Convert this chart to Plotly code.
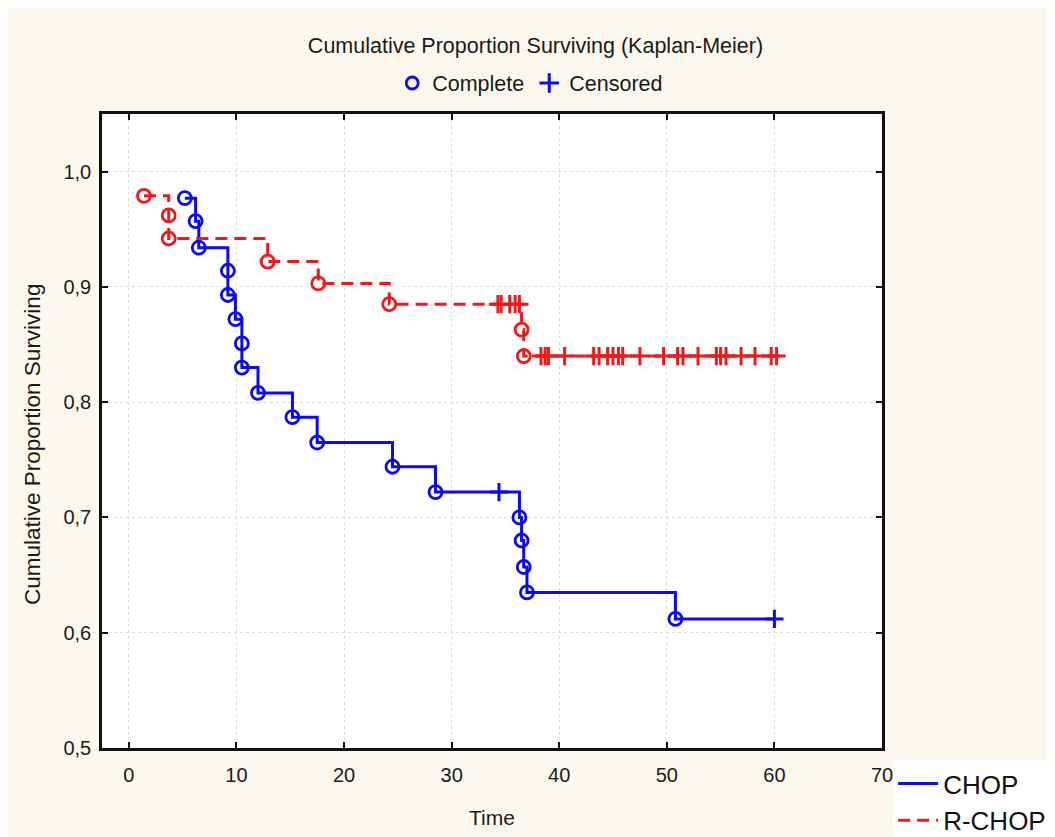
import plotly.graph_objects as go

# CHOP (blue) - event times / survival after event
chop_event_t = [5.2, 6.2, 6.5, 9.2, 9.2, 9.9, 10.5, 10.5, 12.0, 15.2, 17.5, 24.5, 28.5, 36.3, 36.5, 36.7, 37.0, 50.8]
chop_event_s = [0.977, 0.957, 0.934, 0.914, 0.893, 0.872, 0.851, 0.830, 0.808, 0.787, 0.765, 0.744, 0.722, 0.700, 0.680, 0.657, 0.635, 0.612]
chop_cens_t = [34.4, 60.0]
chop_cens_s = [0.722, 0.612]

# R-CHOP (red)
rchop_event_t = [1.4, 3.7, 3.7, 12.9, 17.6, 24.2, 36.5, 36.7]
rchop_event_s = [0.979, 0.962, 0.942, 0.922, 0.903, 0.885, 0.863, 0.840]
rchop_cens_t = [34.3, 34.6, 35.4, 35.9, 36.3,
                 38.3, 38.7, 39.0, 40.5, 43.2, 43.7, 44.5, 45.0, 45.5, 45.9, 47.5,
                 49.7, 51.0, 51.5, 52.9, 54.6, 55.0, 55.5, 56.9, 58.2, 59.7, 60.2]
rchop_cens_s = [0.885] * 5 + [0.840] * 22

x_ticks = [0, 10, 20, 30, 40, 50, 60, 70]
y_ticks = [0.5, 0.6, 0.7, 0.8, 0.9, 1.0]

BLUE = "#0a0af5"
RED = "#f01818"
FONT = "Liberation Sans, Arial, sans-serif"


def step_path(ev_t, ev_s, cens_t, cens_s):
    pts = sorted([(t, s) for t, s in zip(ev_t, ev_s)] + [(t, s) for t, s in zip(cens_t, cens_s)],
                 key=lambda p: (p[0], -p[1]))
    return [p[0] for p in pts], [p[1] for p in pts]


fig = go.Figure()

for name, ev_t, ev_s, c_t, c_s, color, dash in [
    ("CHOP", chop_event_t, chop_event_s, chop_cens_t, chop_cens_s, BLUE, "solid"),
    ("R-CHOP", rchop_event_t, rchop_event_s, rchop_cens_t, rchop_cens_s, RED, "12px,7px"),
]:
    xs, ys = step_path(ev_t, ev_s, c_t, c_s)
    fig.add_trace(go.Scatter(x=xs, y=ys, mode="lines", name=name,
                             line=dict(color=color, width=3, dash=dash, shape="hv"),
                             legend="legend2", hoverinfo="skip"))
    fig.add_trace(go.Scatter(x=ev_t, y=ev_s, mode="markers", showlegend=False,
                             marker=dict(symbol="circle-open", size=13, color=color,
                                         line=dict(width=2.8, color=color))))
    fig.add_trace(go.Scatter(x=c_t, y=c_s, mode="markers", showlegend=False,
                             marker=dict(symbol="cross-thin-open", size=13, color=color,
                                         line=dict(width=3, color=color))))

# legend entries (top)
fig.add_trace(go.Scatter(x=[None], y=[None], mode="markers", name="Complete", legend="legend",
                         marker=dict(symbol="circle-open", size=12, color=BLUE, line=dict(width=2.8, color=BLUE))))
fig.add_trace(go.Scatter(x=[None], y=[None], mode="markers", name="Censored", legend="legend",
                         marker=dict(symbol="cross-thin-open", size=14, color=BLUE, line=dict(width=3, color=BLUE))))

axis_common = dict(showline=True, linecolor="#111111", linewidth=2.5, mirror="ticks",
                   ticks="inside", ticklen=6, tickwidth=2, tickcolor="#111111",
                   showgrid=True, gridcolor="#dcdcdc", griddash="dot", gridwidth=1,
                   zeroline=False, tickfont=dict(family=FONT, size=20, color="#1a1a1a"))

fig.update_xaxes(range=[-2.5, 70], tickvals=x_ticks,
                 title=dict(text="Time", font=dict(family=FONT, size=21, color="#1a1a1a"), standoff=26),
                 ticklabelstandoff=7, **axis_common)
fig.update_yaxes(range=[0.5, 1.05], tickvals=y_ticks, tickformat=".1f",
                 ticklabelstandoff=4, **axis_common)

fig.add_annotation(text="Cumulative Proportion Surviving", textangle=-90, showarrow=False,
                   xref="paper", yref="paper", x=-0.0884, y=0.478, xanchor="center", yanchor="middle",
                   font=dict(family=FONT, size=22.5, color="#1a1a1a"))

fig.update_layout(
    width=1055, height=837,
    separators=",.",
    paper_bgcolor="#fdf8ee",
    plot_bgcolor="#ffffff",
    margin=dict(l=94, r=180.5, t=106, b=97, autoexpand=False),
    title=dict(text="Cumulative Proportion Surviving (Kaplan-Meier)", x=0.5, xref="container", xanchor="center",
               y=1 - 37 / 837, yref="container", yanchor="middle",
               font=dict(family=FONT, size=21.5, color="#1a1a1a")),
    legend=dict(orientation="h", xref="container", yref="container", x=0.495, xanchor="center",
                y=1 - 75 / 837, yanchor="middle", bgcolor="rgba(0,0,0,0)",
                font=dict(family=FONT, size=21.5, color="#1a1a1a"), itemwidth=30),
    legend2=dict(orientation="v", xref="container", yref="container", x=0.839, xanchor="left",
                 y=1 - 752 / 837, yanchor="top", bgcolor="#ffffff",
                 font=dict(family=FONT, size=26, color="#111111"), itemwidth=40,
                 tracegroupgap=0),
    showlegend=True,
)

fig.write_html("out.html")
